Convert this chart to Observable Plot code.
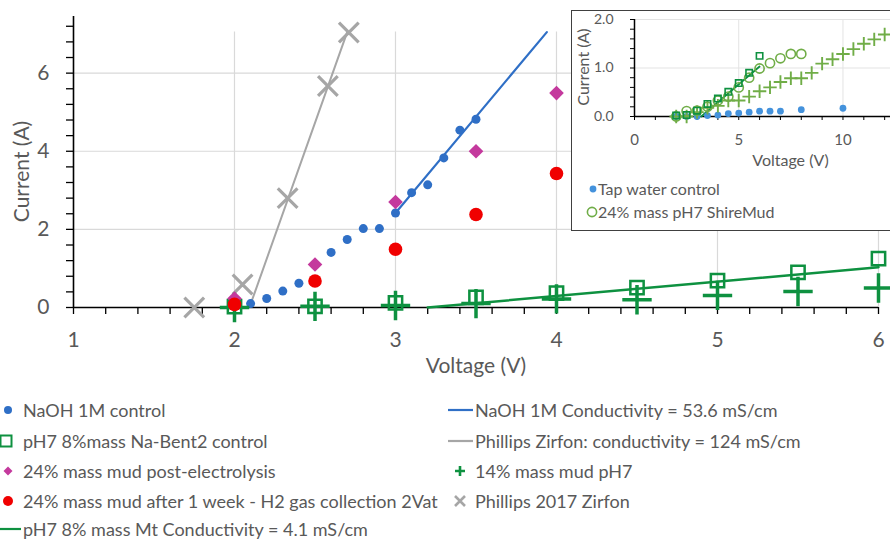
<!DOCTYPE html>
<html>
<head>
<meta charset="utf-8">
<script src="https://cdn.jsdelivr.net/npm/d3@7"></script>
<script src="https://cdn.jsdelivr.net/npm/@observablehq/plot@0.6"></script>
<style>
  html, body { margin: 0; padding: 0; background: #fff; overflow: hidden; }
  body { width: 890px; height: 540px; position: relative; font-family: Lato, "Open Sans", sans-serif; color: #595959; }
  #main { position: absolute; left: 0; top: 0; }
  #inset { position: absolute; left: 571px; top: 10px; width: 340px; height: 219px; border: 1px solid #404040; background: #fff; overflow: hidden; }
  #insetPlot { position: absolute; left: 0; top: 0; }
  .leg { position: absolute; white-space: nowrap; line-height: 18px; }
  .leg svg { position: absolute; overflow: visible; }
</style>
</head>
<body>
<div id="main"></div>
<div id="inset"><div id="insetPlot"></div></div>
<div id="legend"></div>
<script>
// ---------------- Data (main chart) ----------------
const naohV = [2.1, 2.2, 2.3, 2.4, 2.6, 2.7, 2.8, 2.9, 3.0, 3.1, 3.2, 3.3, 3.4, 3.5];
const naohI = [0.1, 0.23, 0.42, 0.62, 1.41, 1.74, 2.02, 2.02, 2.42, 2.94, 3.14, 3.83, 4.54, 4.82];

const bentV = [2.0, 2.5, 3.0, 3.5, 4.0, 4.5, 5.0, 5.5, 6.0];
const bentI = [0.02, 0.03, 0.12, 0.26, 0.37, 0.51, 0.69, 0.9, 1.25];

const mud14V = [2.0, 2.5, 3.0, 3.5, 4.0, 4.5, 5.0, 5.5, 6.0];
const mud14I = [0.0, 0.03, 0.05, 0.1, 0.22, 0.2, 0.31, 0.41, 0.5];

const postV = [2.0, 2.5, 3.0, 3.5, 4.0];
const postI = [0.23, 1.1, 2.7, 4.0, 5.49];

const weekV = [2.0, 2.5, 3.0, 3.5, 4.0];
const weekI = [0.08, 0.68, 1.49, 2.38, 3.43];

const zirV = [1.75, 2.05, 2.33, 2.58, 2.71];
const zirI = [0.0, 0.59, 2.8, 5.67, 7.04];

// fitted lines (end points)
const naohFitV = [3.0, 3.94];
const naohFitI = [2.42, 7.05];
const zirFitV = [2.11, 2.70];
const zirFitI = [0.2, 7.05];
const mtFitV = [3.2, 6.0];
const mtFitI = [0.0, 1.03];

// ---------------- Data (inset) ----------------
const tapV = [2, 2.5, 3, 3.5, 4, 4.5, 5, 5.5, 6, 6.5, 7, 8, 10];
const tapI = [0, 0, 0, 0.02, 0.03, 0.06, 0.07, 0.09, 0.11, 0.11, 0.11, 0.14, 0.17];

const shireV = [2, 2.5, 3, 3.5, 4, 4.5, 5, 5.5, 6, 6.5, 7, 7.5, 8];
const shireI = [0, 0.11, 0.12, 0.2, 0.33, 0.41, 0.6, 0.8, 0.99, 1.1, 1.2, 1.29, 1.29];

const insetPlusV = [2, 2.5, 3, 3.5, 4, 4.5, 5, 5.5, 6, 6.5, 7, 7.5, 8, 8.5, 9, 9.5, 10, 10.5, 11, 11.5, 12];
const insetPlusI = [0, 0, 0.09, 0.18, 0.22, 0.33, 0.33, 0.41, 0.52, 0.6, 0.71, 0.79, 0.79, 0.9, 1.09, 1.18, 1.29, 1.39, 1.5, 1.59, 1.69];

// ---------------- Ticks & labels ----------------
const xTicks = [1, 2, 3, 4, 5, 6];
const xMinor = d3.range(0, 26).map(i => +(1 + i * 0.2).toFixed(2));
const yTicks = [0, 2, 4, 6];
const yMinor = d3.range(0, 19).map(i => +(i * 0.4).toFixed(2));
const yGrid = [2, 4, 6];
const xGrid = [2, 3, 4, 5, 6];

const insetXTicks = [0, 5, 10];
const insetXMinor = d3.range(0, 13);
const insetYTicks = [0, 1, 2];
const insetYMinor = d3.range(0, 11).map(i => +(i * 0.2).toFixed(2));

const xTitle = "Voltage (V)";
const yTitle = "Current (A)";

const legendCol1 = [
  "NaOH 1M control",
  "pH7 8%mass Na-Bent2 control",
  "24% mass mud post-electrolysis",
  "24% mass mud after 1 week - H2 gas collection 2Vat",
  "pH7 8% mass Mt Conductivity = 4.1 mS/cm"
];
const legendCol2 = [
  "NaOH 1M Conductivity = 53.6 mS/cm",
  "Phillips Zirfon: conductivity = 124 mS/cm",
  "14% mass mud pH7",
  "Phillips 2017 Zirfon"
];
const insetLegend = ["Tap water control", "24% mass pH7 ShireMud"];

// ---------------- Styles ----------------
const FONT = "Lato, 'Open Sans', sans-serif";
const TXT = "#595959";
const BLUE = "#2f6fc6";
const GRAY = "#a6a6a6";
const MAGENTA = "#c4399d";
const RED = "#f00000";
const DKGREEN = "#0e9140";
const LTBLUE = "#4492dc";
const LTGREEN = "#70ad47";

const pts = (xs, ys) => xs.map((x, i) => ({x, y: ys[i]}));

// ---------------- Main chart ----------------
const mainPlot = Plot.plot({
  width: 890, height: 390,
  marginLeft: 73, marginRight: 12, marginTop: 16, marginBottom: 83,
  x: {domain: [1, 6], label: null},
  y: {domain: [0, 7.45], label: null},
  style: {fontFamily: FONT, color: TXT, background: "#fff", overflow: "visible"},
  marks: [
    Plot.ruleY(yGrid, {stroke: "#d9d9d9", strokeWidth: 1.2}),
    Plot.ruleX(xGrid, {y1: 0, y2: 7.05, stroke: "#d9d9d9", strokeWidth: 1.2}),
    Plot.axisX(xMinor, {tickSize: 7, fill: "none", stroke: "#000", strokeWidth: 1.3, label: null}),
    Plot.axisX(xTicks, {tickSize: 0, tickPadding: 25, fontSize: 21, fill: TXT, tickFormat: d3.format("d"), label: null}),
    Plot.axisY(yMinor, {tickSize: 7, fill: "none", stroke: "#000", strokeWidth: 1.3, label: null}),
    Plot.axisY(yTicks, {tickSize: 0, tickPadding: 24, fontSize: 21, fill: TXT, tickFormat: d3.format("d"), label: null}),
    Plot.ruleY([0], {stroke: "#000", strokeWidth: 1.6}),
    Plot.ruleX([1], {y1: 0, y2: 7.45, stroke: "#000", strokeWidth: 1.6}),
    Plot.text([xTitle], {frameAnchor: "bottom", textAnchor: "middle", dy: 65, fontSize: 21, fill: TXT}),
    Plot.text([yTitle], {frameAnchor: "left", textAnchor: "middle", dx: -51, dy: 9.5, rotate: -90, fontSize: 21, fill: TXT}),
    Plot.line(pts(zirFitV, zirFitI), {x: "x", y: "y", stroke: GRAY, strokeWidth: 2}),
    Plot.dot(pts(zirV, zirI), {x: "x", y: "y", symbol: "times", r: 9, stroke: GRAY, strokeWidth: 3.2}),
    Plot.line(pts(naohFitV, naohFitI), {x: "x", y: "y", stroke: BLUE, strokeWidth: 2.2}),
    Plot.line(pts(mtFitV, mtFitI), {x: "x", y: "y", stroke: DKGREEN, strokeWidth: 2.5}),
    Plot.dot(pts(naohV, naohI), {x: "x", y: "y", r: 4.5, fill: BLUE}),
    Plot.dot(pts(bentV, bentI), {x: "x", y: "y", symbol: "square", r: 7.5, stroke: DKGREEN, strokeWidth: 2.5, fill: "none"}),
    Plot.dot(pts(mud14V, mud14I), {x: "x", y: "y", symbol: "plus", r: 9.5, stroke: DKGREEN, strokeWidth: 3.5}),
    Plot.dot(pts(postV, postI), {x: "x", y: "y", symbol: "diamond2", r: 6.6, fill: MAGENTA}),
    Plot.dot(pts(weekV, weekI), {x: "x", y: "y", r: 6.8, fill: RED})
  ]
});
document.getElementById("main").appendChild(mainPlot);

// ---------------- Inset chart ----------------
const insetPlot = Plot.plot({
  width: 318, height: 170,
  marginLeft: 62, marginRight: 0, marginTop: 8, marginBottom: 65,
  x: {domain: [0, 12.28], label: null},
  y: {domain: [0, 2], label: null},
  style: {fontFamily: FONT, color: TXT, background: "#fff", overflow: "visible"},
  marks: [
    Plot.ruleY([1, 2], {stroke: "#e3e3e3", strokeWidth: 1}),
    Plot.ruleX([5, 10], {y1: 0, y2: 2, stroke: "#e3e3e3", strokeWidth: 1}),
    Plot.axisX(insetXMinor, {tickSize: 4, fill: "none", stroke: "#000", label: null}),
    Plot.axisX(insetXTicks, {tickSize: 0, tickPadding: 18, fontSize: 15, fill: TXT, tickFormat: d3.format("d"), label: null}),
    Plot.axisY(insetYMinor, {tickSize: 4, fill: "none", stroke: "#000", label: null}),
    Plot.axisY(insetYTicks, {tickSize: 0, tickPadding: 21, fontSize: 14, fill: TXT, tickFormat: d3.format(".1f"), label: null}),
    Plot.ruleY([0], {stroke: "#000", strokeWidth: 1.5}),
    Plot.ruleX([0], {y1: 0, y2: 2, stroke: "#000", strokeWidth: 1.5}),
    Plot.text([xTitle], {frameAnchor: "bottom", textAnchor: "middle", dx: 28, dy: 49, fontSize: 16, fill: TXT}),
    Plot.text([yTitle], {frameAnchor: "left", textAnchor: "middle", dx: -51, dy: -1, rotate: -90, fontSize: 16, fill: TXT}),
    Plot.line(pts(mtFitV, mtFitI), {x: "x", y: "y", stroke: DKGREEN, strokeWidth: 1.8}),
    Plot.dot(pts(tapV, tapI), {x: "x", y: "y", r: 3.4, fill: LTBLUE}),
    Plot.dot(pts(insetPlusV, insetPlusI), {x: "x", y: "y", symbol: "plus", r: 4.4, stroke: LTGREEN, strokeWidth: 1.9}),
    Plot.dot(pts(shireV, shireI), {x: "x", y: "y", r: 4.6, stroke: LTGREEN, strokeWidth: 1.6, fill: "none"}),
    Plot.dot(pts(bentV, bentI), {x: "x", y: "y", symbol: "square", r: 3.6, stroke: DKGREEN, strokeWidth: 1.6, fill: "none"})
  ]
});
document.getElementById("insetPlot").appendChild(insetPlot);

// ---------------- Legends (HTML) ----------------
function addLegend(parent, textLeft, centerY, text, fontSize, markerSvg, markerLeft) {
  const d = document.createElement("div");
  d.className = "leg";
  d.style.left = textLeft + "px";
  d.style.top = (centerY - 9) + "px";
  d.style.fontSize = fontSize + "px";
  d.textContent = text;
  parent.appendChild(d);
  const m = document.createElementNS("http://www.w3.org/2000/svg", "svg");
  m.setAttribute("width", 1); m.setAttribute("height", 1);
  m.style.position = "absolute";
  m.style.left = markerLeft + "px";
  m.style.top = centerY + "px";
  m.style.overflow = "visible";
  m.innerHTML = markerSvg;
  parent.appendChild(m);
}
const legendEl = document.getElementById("legend");
const rowsY = [410, 441, 471, 501, 529];
const col1Markers = [
  `<circle r="4" fill="${BLUE}"/>`,
  `<rect x="-5.5" y="-5.5" width="11" height="11" fill="none" stroke="${DKGREEN}" stroke-width="2"/>`,
  `<path d="M0,-4.5L4.5,0L0,4.5L-4.5,0Z" fill="${MAGENTA}"/>`,
  `<circle r="5" fill="${RED}"/>`,
  `<line x1="-8" x2="13" y1="0" y2="0" stroke="${DKGREEN}" stroke-width="2.2"/>`
];
const col1MarkerX = [8, 6, 8, 8, 8];
legendCol1.forEach((t, i) => addLegend(legendEl, 23, rowsY[i], t, 18, col1Markers[i], col1MarkerX[i]));
const col2Markers = [
  `<line x1="-12" x2="13" y1="0" y2="0" stroke="${BLUE}" stroke-width="2.2"/>`,
  `<line x1="-12" x2="13" y1="0" y2="0" stroke="${GRAY}" stroke-width="2.2"/>`,
  `<path d="M-5,0H5M0,-5V5" stroke="${DKGREEN}" stroke-width="2.6"/>`,
  `<path d="M-5,-5L5,5M-5,5L5,-5" stroke="${GRAY}" stroke-width="2.6"/>`
];
legendCol2.forEach((t, i) => addLegend(legendEl, 475, rowsY[i], t, 18, col2Markers[i], 460));

const insetEl = document.getElementById("inset");
const insetMarkers = [
  `<circle r="3.4" fill="${LTBLUE}"/>`,
  `<circle r="4.6" fill="none" stroke="${LTGREEN}" stroke-width="1.6"/>`
];
const insetRowsY = [178, 201];
const insetMarkerX = [21, 20];
insetLegend.forEach((t, i) => addLegend(insetEl, 26, insetRowsY[i], t, 16, insetMarkers[i], insetMarkerX[i]));
</script>
</body>
</html>
